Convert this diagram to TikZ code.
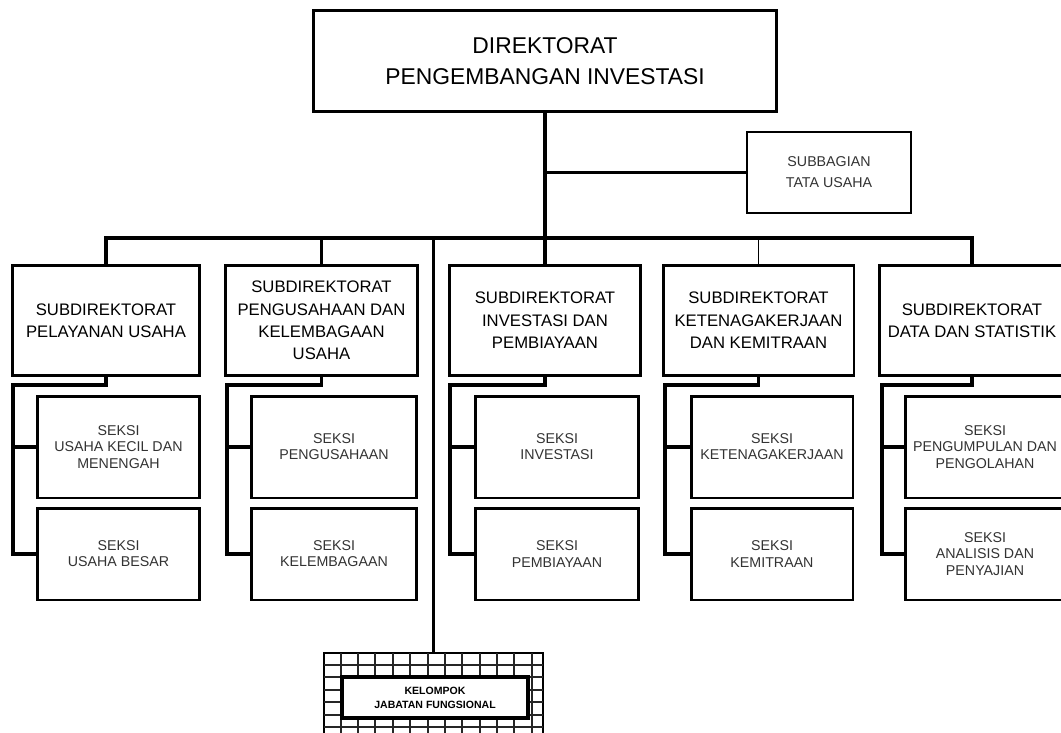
\documentclass[tikz,border=0pt]{standalone}
\usepackage{fontspec}
\setmainfont{Liberation Sans}
\usepackage{tikz}
\usetikzlibrary{positioning}

\begin{document}
\begin{tikzpicture}[
    x=0.02cm, y=0.02cm,
    box/.style={rectangle, draw, line width=1.7pt, fill=white, align=center, inner sep=1pt},
    topbox/.style={box, font=\fontsize{13}{18}\selectfont},
    subbox/.style={box, minimum height=2.22cm, font=\fontsize{9.5}{12.8}\selectfont},
    seksibox/.style={box, line width=1.7pt, text=black!80, font=\fontsize{8.1}{9.2}\selectfont},
    conn/.style={line width=1.9pt},
    thinconn/.style={line width=1pt},
    gridline/.style={line width=0.7pt, black!85}
]
\useasboundingbox (0,0) rectangle (1061,-733);

% Direktorat and Subbagian
\node[topbox, minimum width=9.28cm, minimum height=2.04cm] (dir) at (545,-61) {DIREKTORAT\\PENGEMBANGAN INVESTASI};
\node[box, line width=1.3pt, minimum width=3.28cm, minimum height=1.62cm, font=\fontsize{8.1}{12}\selectfont, text=black!80] (tu) at (829,-172.5) {SUBBAGIAN\\TATA USAHA};

% Subdirektorat
\node[subbox, minimum width=3.76cm] (pu) at (106,-320.5) {SUBDIREKTORAT\\PELAYANAN USAHA};
\node[subbox, minimum width=3.86cm] (pk) at (321.5,-320.5) {SUBDIREKTORAT\\PENGUSAHAAN DAN\\KELEMBAGAAN\\USAHA};
\node[subbox, minimum width=3.84cm] (ip) at (545,-320.5) {SUBDIREKTORAT\\INVESTASI DAN\\PEMBIAYAAN};
\node[subbox, minimum width=3.82cm] (kk) at (758.5,-320.5) {SUBDIREKTORAT\\KETENAGAKERJAAN\\DAN KEMITRAAN};
\node[subbox, minimum width=3.72cm] (ds) at (972,-320.5) {SUBDIREKTORAT\\DATA DAN STATISTIK};

% Seksi
\node[seksibox, minimum width=3.26cm, minimum height=2.04cm] (ukm) at (118.5,-447) {SEKSI\\USAHA KECIL DAN\\MENENGAH};
\node[seksibox, minimum width=3.26cm, minimum height=1.84cm] (ub) at (118.5,-554) {SEKSI\\USAHA BESAR};
\node[seksibox, minimum width=3.32cm, minimum height=2.04cm] (pgs) at (334,-447) {SEKSI\\PENGUSAHAAN};
\node[seksibox, minimum width=3.32cm, minimum height=1.84cm] (klb) at (334,-554) {SEKSI\\KELEMBAGAAN};
\node[seksibox, minimum width=3.28cm, minimum height=2.04cm] (inv) at (557,-447) {SEKSI\\INVESTASI};
\node[seksibox, minimum width=3.28cm, minimum height=1.84cm] (pby) at (557,-554) {SEKSI\\PEMBIAYAAN};
\node[seksibox, minimum width=3.24cm, minimum height=2.04cm] (tk) at (772,-447) {SEKSI\\KETENAGAKERJAAN};
\node[seksibox, minimum width=3.24cm, minimum height=1.84cm] (kmt) at (772,-554) {SEKSI\\KEMITRAAN};
\node[seksibox, minimum width=3.2cm, minimum height=2.04cm] (pp) at (985,-447) {SEKSI\\PENGUMPULAN DAN\\PENGOLAHAN};
\node[seksibox, minimum width=3.2cm, minimum height=1.84cm] (asp) at (985,-554) {SEKSI\\ANALISIS DAN\\PENYAJIAN};

% Kelompok jabatan fungsional
\node[box, line width=1.3pt, minimum width=4.38cm, minimum height=1.84cm] (kjf) at (433.5,-699) {};
\foreach \gx in {341,358,375,393,410,428,445,462,480,497,514,532}
    \draw[gridline] (\gx,-653) -- (\gx,-745);
\foreach \gy in {-665,-677,-690,-702,-715,-727}
    \draw[gridline] (324,\gy) -- (543,\gy);
\node[box, line width=1.9pt, minimum width=3.72cm, minimum height=0.82cm, font=\fontsize{6}{8}\selectfont\bfseries] (kjfin) at (435,-697.5) {KELOMPOK\\JABATAN FUNGSIONAL};

% Coordinates
\coordinate (bar) at (0,-238);
\coordinate (sp1) at (13,-385);
\coordinate (sp2) at (227,-385);
\coordinate (sp3) at (450,-385);
\coordinate (sp4) at (665,-385);
\coordinate (sp5) at (882,-385);

% Lines
\draw[conn] (dir.south) -- (ip.north);
\draw[conn] (dir.south |- tu.west) -- (tu.west);
\draw[conn] (pu.north) |- (ds.north |- bar) -- (ds.north);
\draw[conn] (pk.north) -- (pk.north |- bar);
\draw[thinconn] (kk.north) -- (kk.north |- bar);
\draw[conn] (kjf.north |- bar) -- (kjf.north);

\draw[conn] (pu.south) |- (sp1) |- (ukm.west);
\draw[conn] (sp1) |- (ub.west);
\draw[conn] (pk.south) |- (sp2) |- (pgs.west);
\draw[conn] (sp2) |- (klb.west);
\draw[conn] (ip.south) |- (sp3) |- (inv.west);
\draw[conn] (sp3) |- (pby.west);
\draw[conn] (kk.south) |- (sp4) |- (tk.west);
\draw[conn] (sp4) |- (kmt.west);
\draw[conn] (ds.south) |- (sp5) |- (pp.west);
\draw[conn] (sp5) |- (asp.west);
\end{tikzpicture}
\end{document}
